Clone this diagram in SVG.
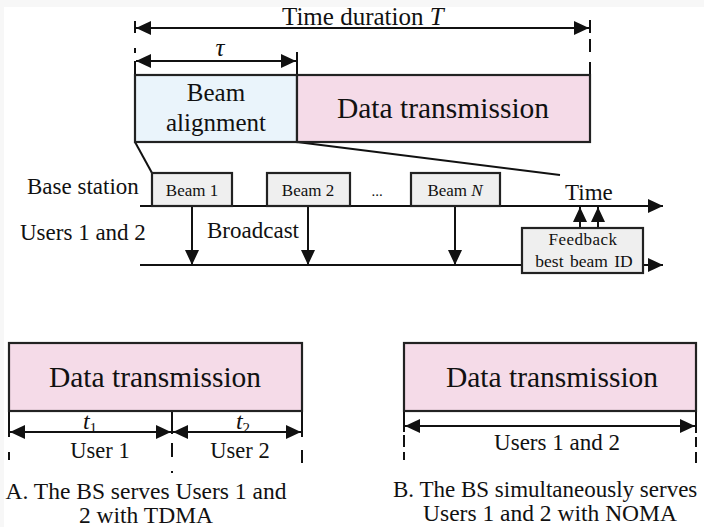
<svg xmlns="http://www.w3.org/2000/svg" width="704" height="527" viewBox="0 0 704 527">
<style>
text{font-family:"Liberation Serif","Times New Roman",serif;fill:#111;}
.it{font-style:italic;}
.ln{stroke:#111;stroke-width:2;fill:none;}
.box{stroke:#222;stroke-width:2.2;}
.blue{fill:#eaf4fb;}
.pink{fill:#f5dbe8;}
.gray{fill:#efefef;}
.arr{marker-end:url(#ah);}
.arr2{marker-start:url(#ah);marker-end:url(#ah);}
</style>
<defs>
<marker id="ah" viewBox="0 0 15 14" refX="15" refY="7" markerWidth="15" markerHeight="14" markerUnits="userSpaceOnUse" orient="auto-start-reverse">
<path d="M0,0 L15,7 L0,14 z" fill="#111"/>
</marker>
</defs>
<rect x="0" y="0" width="704" height="527" fill="#fff"/>
<rect x="0" y="0" width="704" height="7" fill="#f7f7f7"/>
<rect x="0" y="0" width="4" height="527" fill="#f7f7f7"/>

<g id="connectors">
<line class="ln" x1="135" y1="21" x2="135" y2="33"/>
<line class="ln" x1="135" y1="48" x2="135" y2="53"/>
<line class="ln" x1="135" y1="61" x2="135" y2="75"/>
<line class="ln" x1="590" y1="20" x2="590" y2="33"/>
<line class="ln" x1="590" y1="39" x2="590" y2="52"/>
<line class="ln" x1="590" y1="62" x2="590" y2="75"/>
<line class="ln" x1="297" y1="52" x2="297" y2="75"/>
<line class="ln arr2" x1="136" y1="28" x2="589" y2="28"/>
<line class="ln arr2" x1="136" y1="61" x2="296" y2="61"/>
<line class="ln" x1="135" y1="142" x2="152" y2="173"/>
<line class="ln" x1="297" y1="142" x2="560" y2="175"/>
<line class="ln arr" x1="140" y1="206" x2="663" y2="206"/>
<line class="ln arr" x1="140" y1="265" x2="663" y2="265"/>
<line class="ln arr" x1="192" y1="206" x2="192" y2="265"/>
<line class="ln arr" x1="308" y1="206" x2="308" y2="265"/>
<line class="ln arr" x1="455" y1="206" x2="455" y2="265"/>
<line class="ln arr" x1="580" y1="228" x2="580" y2="207"/>
<line class="ln arr" x1="598" y1="228" x2="598" y2="207"/>
<line class="ln" x1="9" y1="411" x2="9" y2="437"/>
<line class="ln" x1="9" y1="452" x2="9" y2="460"/>
<line class="ln" x1="172" y1="411" x2="172" y2="434"/>
<line class="ln" x1="172" y1="443" x2="172" y2="457"/>
<line class="ln" x1="172" y1="471" x2="172" y2="473"/>
<line class="ln" x1="302" y1="411" x2="302" y2="437"/>
<line class="ln" x1="302" y1="450" x2="302" y2="463"/>
<line class="ln arr2" x1="10" y1="432" x2="171" y2="432"/>
<line class="ln arr2" x1="173" y1="432" x2="301" y2="432"/>
<line class="ln" x1="404" y1="411" x2="404" y2="432"/>
<line class="ln" x1="404" y1="435" x2="404" y2="447"/>
<line class="ln" x1="404" y1="452" x2="404" y2="460"/>
<line class="ln" x1="696" y1="411" x2="696" y2="433"/>
<line class="ln" x1="696" y1="437" x2="696" y2="447"/>
<line class="ln" x1="696" y1="452" x2="696" y2="463"/>
<line class="ln arr2" x1="405" y1="426" x2="695" y2="426"/>
</g>

<g id="label-time-duration">
<text x="282" y="25" font-size="25">Time duration <tspan class="it">T</tspan></text>
</g>
<g id="label-tau">
<text x="220" y="56" font-size="25" class="it" text-anchor="middle">τ</text>
</g>

<g id="beam-alignment">
<rect class="box blue" x="135" y="75" width="162" height="67"/>
<text x="216" y="101" font-size="25" text-anchor="middle">Beam</text>
<text x="216" y="131" font-size="25" text-anchor="middle">alignment</text>
</g>
<g id="data-transmission-top">
<rect class="box pink" x="297" y="75" width="293" height="67"/>
<text x="443" y="118" font-size="29.5" text-anchor="middle">Data transmission</text>
</g>

<g id="label-base-station">
<text x="27" y="194" font-size="23">Base station</text>
</g>
<g id="label-users">
<text x="20" y="240" font-size="23">Users 1 and 2</text>
</g>
<g id="label-broadcast">
<text x="207" y="238" font-size="23">Broadcast</text>
</g>
<g id="label-time">
<text x="565" y="200" font-size="23">Time</text>
</g>

<g id="beam1">
<rect class="box gray" x="152" y="173" width="80" height="33"/>
<text x="192" y="196" font-size="17" text-anchor="middle">Beam 1</text>
</g>
<g id="beam2">
<rect class="box gray" x="267" y="173" width="83" height="33"/>
<text x="308" y="196" font-size="17" text-anchor="middle">Beam 2</text>
</g>
<g id="ellipsis">
<text x="377" y="196" font-size="15" text-anchor="middle">...</text>
</g>
<g id="beamN">
<rect class="box gray" x="411" y="173" width="89" height="33"/>
<text x="455" y="196" font-size="17" text-anchor="middle">Beam <tspan class="it">N</tspan></text>
</g>

<g id="feedback">
<rect class="box gray" x="522" y="228" width="121" height="45"/>
<text x="583" y="245" font-size="17" text-anchor="middle" letter-spacing="0.5">Feedback</text>
<text x="584" y="267" font-size="17.5" text-anchor="middle" word-spacing="2">best beam ID</text>
</g>

<g id="data-transmission-A">
<rect class="box pink" x="9" y="343" width="293" height="68"/>
<text x="155" y="387" font-size="29.5" text-anchor="middle">Data transmission</text>
<text x="90" y="429" font-size="24" class="it" text-anchor="middle">t<tspan font-size="15" dy="4" font-style="normal">1</tspan></text>
<text x="243" y="429" font-size="24" class="it" text-anchor="middle">t<tspan font-size="15" dy="4" font-style="normal">2</tspan></text>
<text x="100" y="458" font-size="22.5" text-anchor="middle">User 1</text>
<text x="240" y="458" font-size="22.5" text-anchor="middle">User 2</text>
</g>
<g id="caption-A">
<text x="146" y="499" font-size="23.5" text-anchor="middle">A. The BS serves Users 1 and</text>
<text x="146" y="523" font-size="23.5" text-anchor="middle">2 with TDMA</text>
</g>

<g id="data-transmission-B">
<rect class="box pink" x="404" y="343" width="292" height="68"/>
<text x="552" y="387" font-size="29.5" text-anchor="middle">Data transmission</text>
<text x="557" y="450" font-size="23" text-anchor="middle">Users 1 and 2</text>
</g>
<g id="caption-B">
<text x="393" y="497" font-size="23">B. The BS simultaneously serves</text>
<text x="550" y="521" font-size="23.5" text-anchor="middle">Users 1 and 2 with NOMA</text>
</g>
</svg>
